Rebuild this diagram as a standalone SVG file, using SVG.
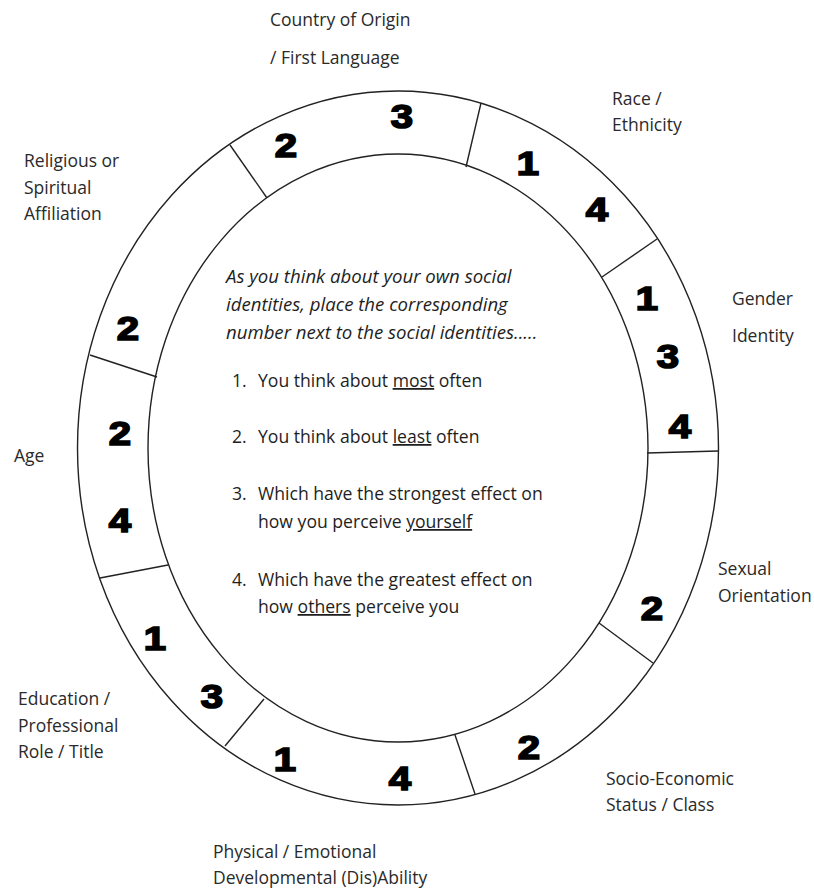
<svg xmlns="http://www.w3.org/2000/svg" width="814" height="888" viewBox="0 0 814 888">
  <style>
    .ring { fill: none; stroke: #222; stroke-width: 1.4; }
    .div { stroke: #222; stroke-width: 1.4; }
    .lbl { font-family: "Open Sans", "Liberation Sans", sans-serif; font-size: 17.5px; fill: #2a2a2a; }
    .ins { font-family: "Open Sans", "Liberation Sans", sans-serif; font-size: 17.6px; fill: #1e1e1e; }
    .it { font-style: italic; font-size: 18.6px; }
    .n { font-family: "Liberation Sans", Arial, sans-serif; font-weight: bold; font-size: 34px; fill: #000; stroke: #000; stroke-width: 1.7; text-anchor: middle; }
  </style>
  <rect width="814" height="888" fill="#fff"/>
  <g id="ring">
    <ellipse class="ring" cx="398" cy="448" rx="320.5" ry="357"/>
    <ellipse class="ring" cx="398" cy="448" rx="250" ry="294"/>
  </g>
  <g id="connectors">
    <line class="div" x1="230" y1="145" x2="267" y2="198"/>
    <line class="div" x1="481" y1="103" x2="466" y2="167"/>
    <line class="div" x1="657" y1="239" x2="602" y2="277"/>
    <line class="div" x1="718" y1="451" x2="647" y2="453"/>
    <line class="div" x1="653" y1="663" x2="599" y2="623"/>
    <line class="div" x1="475" y1="794" x2="455" y2="735"/>
    <line class="div" x1="225" y1="746" x2="264" y2="699"/>
    <line class="div" x1="100" y1="578" x2="168" y2="565"/>
    <line class="div" x1="90" y1="355" x2="157" y2="377"/>
  </g>
  <g id="seg-country">
    <text class="lbl" x="270" y="26">Country of Origin</text>
    <text class="lbl" x="270" y="64">/ First Language</text>
    <text class="n" transform="translate(286,157) scale(1.18,1)">2</text>
    <text class="n" transform="translate(402,128) scale(1.18,1)">3</text>
  </g>
  <g id="seg-race">
    <text class="lbl" x="612" y="105">Race /</text>
    <text class="lbl" x="612" y="131">Ethnicity</text>
    <text class="n" transform="translate(528,175) scale(1.18,1)">1</text>
    <text class="n" transform="translate(597,221) scale(1.18,1)">4</text>
  </g>
  <g id="seg-gender">
    <text class="lbl" x="732" y="305">Gender</text>
    <text class="lbl" x="732" y="342">Identity</text>
    <text class="n" transform="translate(647,310) scale(1.18,1)">1</text>
    <text class="n" transform="translate(668,368) scale(1.18,1)">3</text>
    <text class="n" transform="translate(680,438) scale(1.18,1)">4</text>
  </g>
  <g id="seg-sexual">
    <text class="lbl" x="718" y="575">Sexual</text>
    <text class="lbl" x="718" y="602">Orientation</text>
    <text class="n" transform="translate(652,620) scale(1.18,1)">2</text>
  </g>
  <g id="seg-socio">
    <text class="lbl" x="606" y="785">Socio-Economic</text>
    <text class="lbl" x="606" y="811">Status / Class</text>
    <text class="n" transform="translate(529,759) scale(1.18,1)">2</text>
  </g>
  <g id="seg-physical">
    <text class="lbl" x="213" y="858">Physical / Emotional</text>
    <text class="lbl" x="213" y="884">Developmental (Dis)Ability</text>
    <text class="n" transform="translate(285,771) scale(1.18,1)">1</text>
    <text class="n" transform="translate(400,790) scale(1.18,1)">4</text>
  </g>
  <g id="seg-education">
    <text class="lbl" x="18" y="705">Education /</text>
    <text class="lbl" x="18" y="732">Professional</text>
    <text class="lbl" x="18" y="758">Role / Title</text>
    <text class="n" transform="translate(155,650) scale(1.18,1)">1</text>
    <text class="n" transform="translate(212,708) scale(1.18,1)">3</text>
  </g>
  <g id="seg-age">
    <text class="lbl" x="14" y="462">Age</text>
    <text class="n" transform="translate(120,445) scale(1.18,1)">2</text>
    <text class="n" transform="translate(120,532) scale(1.18,1)">4</text>
  </g>
  <g id="seg-religious">
    <text class="lbl" x="24" y="167">Religious or</text>
    <text class="lbl" x="24" y="194">Spiritual</text>
    <text class="lbl" x="24" y="220">Affiliation</text>
    <text class="n" transform="translate(128,340) scale(1.18,1)">2</text>
  </g>
  <g id="instructions">
    <text class="ins it" x="226" y="283">As you think about your own social</text>
    <text class="ins it" x="226" y="311">identities, place the corresponding</text>
    <text class="ins it" x="226" y="339">number next to the social identities.....</text>
    <text class="ins" x="232" y="387">1.</text>
    <text class="ins" x="258" y="387">You think about <tspan text-decoration="underline">most</tspan> often</text>
    <text class="ins" x="232" y="443">2.</text>
    <text class="ins" x="258" y="443">You think about <tspan text-decoration="underline">least</tspan> often</text>
    <text class="ins" x="232" y="500">3.</text>
    <text class="ins" x="258" y="500">Which have the strongest effect on</text>
    <text class="ins" x="258" y="528">how you perceive <tspan text-decoration="underline">yourself</tspan></text>
    <text class="ins" x="232" y="586">4.</text>
    <text class="ins" x="258" y="586">Which have the greatest effect on</text>
    <text class="ins" x="258" y="613">how <tspan text-decoration="underline">others</tspan> perceive you</text>
  </g>
</svg>
